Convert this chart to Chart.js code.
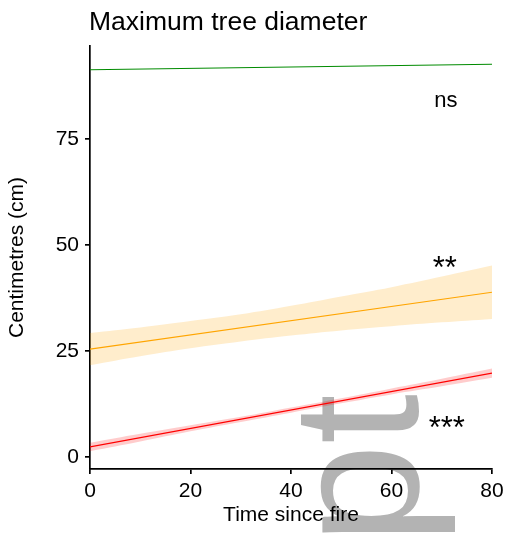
<!DOCTYPE html>
<html>
<head>
<meta charset="utf-8">
<script src="https://cdn.jsdelivr.net/npm/chart.js@4.4.1/dist/chart.umd.min.js"></script>
<style>
  html, body { margin: 0; padding: 0; background: #fff; }
</style>
</head>
<body>
<canvas id="diamChart" width="510" height="538"></canvas>
<script>
// years since the last fire, sampled for the confidence ribbons
const years = [0, 10, 20, 30, 40, 50, 60, 70, 80];
const fitYears = [0, 80];
const xTicks = [0, 20, 40, 60, 80];
const yTicks = [0, 25, 50, 75];

// fitted regression lines (end points)
const greenFit = [91.3, 92.6];
const orangeFit = [25.4, 38.8];
const redFit = [2.3, 19.7];

// 95% confidence bands
const orangeUpper = [29.2, 30.5, 32.0, 33.6, 35.6, 37.8, 40.0, 42.5, 45.1];
const orangeLower = [21.6, 23.7, 25.6, 27.2, 28.6, 29.8, 30.8, 31.7, 32.5];
const redUpper = [3.3, 5.4, 7.4, 9.4, 11.6, 13.8, 16.1, 18.4, 20.8];
const redLower = [1.3, 3.6, 6.0, 8.2, 10.4, 12.6, 14.7, 16.6, 18.6];

// significance of each slope
const sigLabels = ['ns', '**', '***'];
const sigX = [70.8, 70.6, 71.0];
const sigY = [82.6, 42.2, 4.5];

const toPts = (xs, ys) => xs.map((x, i) => ({ x: x, y: ys[i] }));
const FONT = "'Liberation Sans', Arial, sans-serif";

const textLayer = {
  id: 'textLayer',
  beforeDraw(chart) {
    const c = chart.ctx;
    c.save();
    c.translate(418, 544);
    c.rotate(-Math.PI / 2);
    c.fillStyle = '#b3b3b3';
    c.font = '180px ' + FONT;
    c.textBaseline = 'alphabetic';
    c.textAlign = 'left';
    c.fillText('pt', 0, 0);
    c.restore();
  },
  afterDraw(chart) {
    const c = chart.ctx;
    const xs = chart.scales.x, ys = chart.scales.y;
    c.save();
    c.fillStyle = '#000';
    c.textBaseline = 'alphabetic';
    c.textAlign = 'left';
    c.font = '26.5px ' + FONT;
    c.fillText('Maximum tree diameter', chart.chartArea.left - 1, 30);
    c.textAlign = 'center';
    sigLabels.forEach((lab, i) => {
      c.font = (lab === 'ns' ? '22px ' : '31px ') + FONT;
      c.fillText(lab, xs.getPixelForValue(sigX[i]), ys.getPixelForValue(sigY[i]));
    });
    c.restore();
  }
};

const ribbon = (data, fill, color) => ({
  data: data, borderWidth: 0, pointRadius: 0, fill: fill,
  backgroundColor: color, tension: 0.4
});
const fitLine = (data, color) => ({
  data: data, borderColor: color, borderWidth: 1.2, pointRadius: 0, fill: false
});

new Chart(document.getElementById('diamChart'), {
  type: 'line',
  data: {
    datasets: [
      ribbon(toPts(years, orangeUpper), '+1', 'rgba(255,165,0,0.2)'),
      ribbon(toPts(years, orangeLower), false, 'rgba(255,165,0,0.2)'),
      ribbon(toPts(years, redUpper), '+1', 'rgba(255,0,0,0.2)'),
      ribbon(toPts(years, redLower), false, 'rgba(255,0,0,0.2)'),
      fitLine(toPts(fitYears, greenFit), '#008b00'),
      fitLine(toPts(fitYears, orangeFit), '#ffa500'),
      fitLine(toPts(fitYears, redFit), '#ff0000')
    ]
  },
  options: {
    responsive: false,
    animation: false,
    devicePixelRatio: 1,
    layout: { padding: { top: 46, right: 18, left: 0, bottom: 0 } },
    plugins: { legend: { display: false }, tooltip: { enabled: false } },
    scales: {
      x: {
        type: 'linear', min: 0, max: 80,
        afterBuildTicks: s => { s.ticks = xTicks.map(v => ({ value: v })); },
        afterFit: s => { s.height = 69; },
        grid: { drawOnChartArea: false, tickLength: 5, color: '#000', lineWidth: 1.7 },
        border: { color: '#000', width: 1.7 },
        ticks: { color: '#000', padding: 5, font: { family: FONT, size: 21 }, maxRotation: 0 },
        title: { display: true, text: 'Time since fire', color: '#000',
                 font: { family: FONT, size: 21 }, padding: { bottom: 10 } }
      },
      y: {
        type: 'linear', min: -2.9, max: 96.9,
        afterBuildTicks: s => { s.ticks = yTicks.map(v => ({ value: v })); },
        afterFit: s => { s.width = 90; },
        grid: { drawOnChartArea: false, tickLength: 5, color: '#000', lineWidth: 1.7 },
        border: { color: '#000', width: 1.7 },
        ticks: { color: '#000', padding: 6, font: { family: FONT, size: 21 } },
        title: { display: true, text: 'Centimetres (cm)', color: '#000',
                 font: { family: FONT, size: 21 }, padding: { top: 5 } }
      }
    }
  },
  plugins: [textLayer]
});
</script>
</body>
</html>
